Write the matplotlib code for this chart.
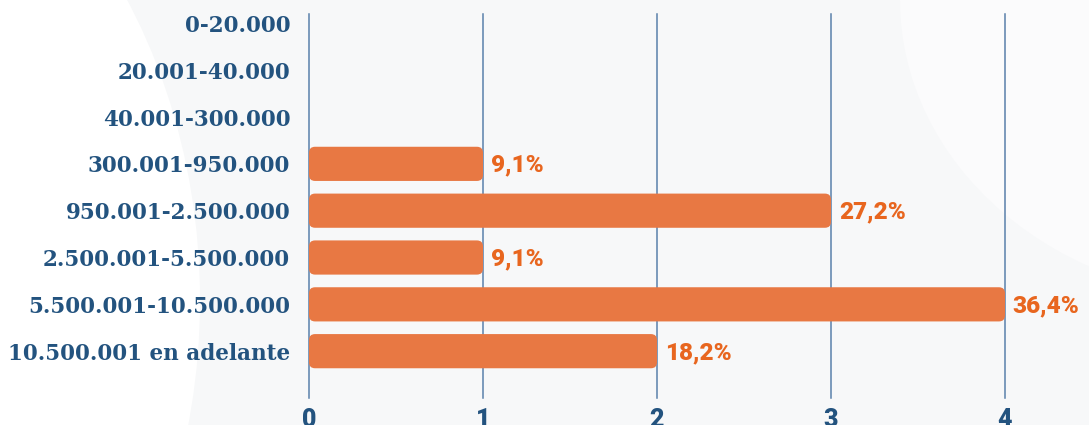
import matplotlib.pyplot as plt
from matplotlib.patches import FancyBboxPatch, Ellipse

categories = ["0-20.000", "20.001-40.000", "40.001-300.000", "300.001-950.000",
              "950.001-2.500.000", "2.500.001-5.500.000", "5.500.001-10.500.000",
              "10.500.001 en adelante"]
values = [0, 0, 0, 1, 3, 1, 4, 2]
pct_labels = ["", "", "", "9,1%", "27,2%", "9,1%", "36,4%", "18,2%"]
x_ticks = [0, 1, 2, 3, 4]

blue = "#23537f"
orange_bar = "#e87843"
orange_txt = "#e8661f"

fig = plt.figure(figsize=(10.89, 4.25), dpi=100)
fig.patch.set_facecolor("#f7f8f9")

# light background swooshes
bg = fig.add_axes([0, 0, 1, 1], zorder=-10)
bg.set_xlim(0, 1089)
bg.set_ylim(425, 0)
bg.axis("off")
bg.add_patch(Ellipse((-250, 300), 900, 1100, color="#ffffff", lw=0))
bg.add_patch(Ellipse((1250, 0), 700, 600, color="#fbfbfc", lw=0))

ax = fig.add_axes([309 / 1089, 27 / 425, 696 / 1089, 384 / 425])
ax.set_facecolor("none")

ypos = list(range(len(categories)))
bars = ax.barh(ypos, values, height=0.73, color=orange_bar)

ax.set_xlim(0, 4)
ax.set_ylim(8.0, -0.2)

# swap plain bars for rounded ones
for b in bars:
    x, y = b.get_x(), b.get_y()
    w, h = b.get_width(), b.get_height()
    b.set_visible(False)
    if w <= 0:
        continue
    ax.add_patch(FancyBboxPatch((x, y), w, h,
                                boxstyle="round,pad=0,rounding_size=0.035",
                                mutation_aspect=3.7, fc=orange_bar, ec="none",
                                zorder=3))

for yv, v, lab in zip(ypos, values, pct_labels):
    if lab:
        ax.text(v + 0.045, yv + 0.03, lab, va="center", ha="left",
                color=orange_txt, fontsize=17.5, fontweight="black",
                family="Roboto", clip_on=False, zorder=4)

ax.set_xticks(x_ticks)
ax.set_xticklabels([str(t) for t in x_ticks], fontsize=18, fontweight="black",
                   color=blue, family="Roboto")
ax.set_yticks(ypos)
ax.set_yticklabels(categories, fontsize=15.5, fontweight="bold", color=blue,
                   family="DejaVu Serif")
ax.tick_params(axis="both", length=0)
ax.tick_params(axis="y", pad=13.5)
ax.tick_params(axis="x", pad=7)

ax.grid(axis="x", color="#5a80ab", lw=1.1, zorder=1)
for gl in ax.get_xgridlines():
    gl.set_clip_on(False)
ax.set_axisbelow(True)
for s in ax.spines.values():
    s.set_visible(False)

fig.savefig("out.png", dpi=100, facecolor=fig.get_facecolor())
